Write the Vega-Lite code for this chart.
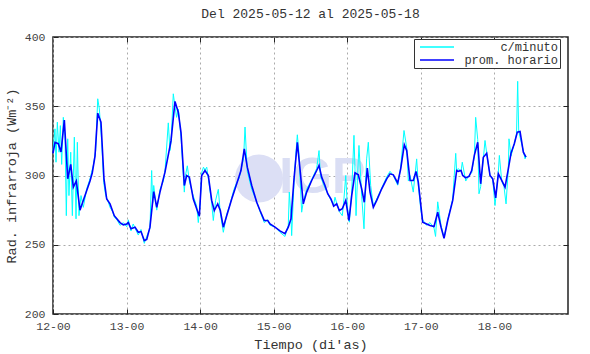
{
"$schema": "https://vega.github.io/schema/vega-lite/v6.json",
"width": 515, "height": 277,
"autosize": {"type": "none"},
"padding": {"left": 53, "top": 37, "right": 22, "bottom": 40},
"background": "white",
"config": {
 "font": "Liberation Mono",
 "view": {"stroke": "#222", "strokeWidth": 1.5},
 "legend": {"strokeColor": "#333", "fillColor": "white", "padding": 2, "symbolType": "M-3.4,0H3.4", "symbolSize": 100, "symbolStrokeWidth": 1.5, "symbolOffset": 15, "labelFont": "Liberation Mono", "labelFontSize": 12, "labelColor": "#333", "labelAlign": "right", "labelOffset": 115, "rowPadding": 1, "cornerRadius": 0}
},
"title": {"text": "Del 2025-05-12 al 2025-05-18", "fontSize": 13, "fontWeight": "normal", "color": "#333", "offset": 10, "font": "Liberation Mono"},
"datasets": {
 "marca": [{"t": 14.80, "v": 297.8, "txt": ""}],
 "marca2": [{"t": 15.66, "v": 298.0, "txt": "IGP"}],
 "horario": [
{"s":"prom. horario","t":12.0,"v":316},{"s":"prom. horario","t":12.027,"v":324},{"s":"prom. horario","t":12.072,"v":323},{"s":"prom. horario","t":12.109,"v":317},{"s":"prom. horario","t":12.154,"v":340},{"s":"prom. horario","t":12.2,"v":297.6},{"s":"prom. horario","t":12.241,"v":308},{"s":"prom. horario","t":12.276,"v":291.6},{"s":"prom. horario","t":12.317,"v":296},{"s":"prom. horario","t":12.367,"v":275},{"s":"prom. horario","t":12.435,"v":285.5},{"s":"prom. horario","t":12.503,"v":296},{"s":"prom. horario","t":12.534,"v":302},{"s":"prom. horario","t":12.571,"v":314},{"s":"prom. horario","t":12.608,"v":345},{"s":"prom. horario","t":12.652,"v":338.5},{"s":"prom. horario","t":12.693,"v":297.6},{"s":"prom. horario","t":12.73,"v":283},{"s":"prom. horario","t":12.775,"v":279.5},{"s":"prom. horario","t":12.833,"v":271},{"s":"prom. horario","t":12.911,"v":266},{"s":"prom. horario","t":12.956,"v":264.4},{"s":"prom. horario","t":13.002,"v":265},{"s":"prom. horario","t":13.024,"v":266},{"s":"prom. horario","t":13.06,"v":261.5},{"s":"prom. horario","t":13.115,"v":262.7},{"s":"prom. horario","t":13.159,"v":259},{"s":"prom. horario","t":13.196,"v":259.5},{"s":"prom. horario","t":13.241,"v":253},{"s":"prom. horario","t":13.274,"v":253.8},{"s":"prom. horario","t":13.318,"v":262.7},{"s":"prom. horario","t":13.369,"v":288.4},{"s":"prom. horario","t":13.41,"v":277},{"s":"prom. horario","t":13.454,"v":288},{"s":"prom. horario","t":13.522,"v":302.4},{"s":"prom. horario","t":13.604,"v":325},{"s":"prom. horario","t":13.658,"v":353.5},{"s":"prom. horario","t":13.703,"v":345.7},{"s":"prom. horario","t":13.74,"v":331},{"s":"prom. horario","t":13.785,"v":292.8},{"s":"prom. horario","t":13.817,"v":300},{"s":"prom. horario","t":13.853,"v":298.8},{"s":"prom. horario","t":13.907,"v":283},{"s":"prom. horario","t":13.953,"v":276},{"s":"prom. horario","t":13.989,"v":270.6},{"s":"prom. horario","t":14.021,"v":300},{"s":"prom. horario","t":14.066,"v":303.6},{"s":"prom. horario","t":14.111,"v":300},{"s":"prom. horario","t":14.157,"v":282},{"s":"prom. horario","t":14.192,"v":274.7},{"s":"prom. horario","t":14.239,"v":279.5},{"s":"prom. horario","t":14.274,"v":274.7},{"s":"prom. horario","t":14.315,"v":262.7},{"s":"prom. horario","t":14.361,"v":271},{"s":"prom. horario","t":14.429,"v":283},{"s":"prom. horario","t":14.497,"v":294},{"s":"prom. horario","t":14.555,"v":303.6},{"s":"prom. horario","t":14.6,"v":319.3},{"s":"prom. horario","t":14.641,"v":306},{"s":"prom. horario","t":14.701,"v":292.8},{"s":"prom. horario","t":14.769,"v":280.7},{"s":"prom. horario","t":14.814,"v":274.7},{"s":"prom. horario","t":14.872,"v":267.5},{"s":"prom. horario","t":14.918,"v":267.5},{"s":"prom. horario","t":14.95,"v":265},{"s":"prom. horario","t":15.017,"v":262.7},{"s":"prom. horario","t":15.085,"v":260},{"s":"prom. horario","t":15.153,"v":258},{"s":"prom. horario","t":15.198,"v":262.7},{"s":"prom. horario","t":15.235,"v":268.7},{"s":"prom. horario","t":15.276,"v":297.6},{"s":"prom. horario","t":15.321,"v":324},{"s":"prom. horario","t":15.357,"v":304.8},{"s":"prom. horario","t":15.402,"v":279.5},{"s":"prom. horario","t":15.448,"v":288},{"s":"prom. horario","t":15.516,"v":296.4},{"s":"prom. horario","t":15.584,"v":303.6},{"s":"prom. horario","t":15.616,"v":307.2},{"s":"prom. horario","t":15.652,"v":298.8},{"s":"prom. horario","t":15.697,"v":292.8},{"s":"prom. horario","t":15.734,"v":286.8},{"s":"prom. horario","t":15.779,"v":283},{"s":"prom. horario","t":15.815,"v":277.8},{"s":"prom. horario","t":15.856,"v":279.5},{"s":"prom. horario","t":15.892,"v":274.7},{"s":"prom. horario","t":15.932,"v":276},{"s":"prom. horario","t":15.979,"v":282},{"s":"prom. horario","t":16.023,"v":267.5},{"s":"prom. horario","t":16.06,"v":285.5},{"s":"prom. horario","t":16.105,"v":302},{"s":"prom. horario","t":16.15,"v":300.5},{"s":"prom. horario","t":16.196,"v":290.4},{"s":"prom. horario","t":16.231,"v":280.7},{"s":"prom. horario","t":16.272,"v":305.3},{"s":"prom. horario","t":16.309,"v":288},{"s":"prom. horario","t":16.354,"v":277},{"s":"prom. horario","t":16.4,"v":282},{"s":"prom. horario","t":16.468,"v":290.4},{"s":"prom. horario","t":16.536,"v":297.6},{"s":"prom. horario","t":16.581,"v":301.2},{"s":"prom. horario","t":16.626,"v":300.5},{"s":"prom. horario","t":16.685,"v":294.7},{"s":"prom. horario","t":16.726,"v":304.8},{"s":"prom. horario","t":16.775,"v":322.2},{"s":"prom. horario","t":16.808,"v":318},{"s":"prom. horario","t":16.853,"v":296.4},{"s":"prom. horario","t":16.897,"v":296.4},{"s":"prom. horario","t":16.934,"v":302.9},{"s":"prom. horario","t":16.965,"v":295.2},{"s":"prom. horario","t":17.025,"v":266.3},{"s":"prom. horario","t":17.079,"v":265},{"s":"prom. horario","t":17.124,"v":263.9},{"s":"prom. horario","t":17.179,"v":263.2},{"s":"prom. horario","t":17.229,"v":273.5},{"s":"prom. horario","t":17.274,"v":262.7},{"s":"prom. horario","t":17.315,"v":254.7},{"s":"prom. horario","t":17.365,"v":267.5},{"s":"prom. horario","t":17.433,"v":282},{"s":"prom. horario","t":17.487,"v":303.6},{"s":"prom. horario","t":17.509,"v":303},{"s":"prom. horario","t":17.546,"v":303.6},{"s":"prom. horario","t":17.569,"v":300},{"s":"prom. horario","t":17.61,"v":298.3},{"s":"prom. horario","t":17.654,"v":299.3},{"s":"prom. horario","t":17.691,"v":303.6},{"s":"prom. horario","t":17.727,"v":314.5},{"s":"prom. horario","t":17.773,"v":324},{"s":"prom. horario","t":17.813,"v":294},{"s":"prom. horario","t":17.849,"v":313.2},{"s":"prom. horario","t":17.895,"v":316},{"s":"prom. horario","t":17.94,"v":300},{"s":"prom. horario","t":17.977,"v":297.6},{"s":"prom. horario","t":18.017,"v":283.9},{"s":"prom. horario","t":18.053,"v":301.2},{"s":"prom. horario","t":18.099,"v":296.4},{"s":"prom. horario","t":18.144,"v":291.6},{"s":"prom. horario","t":18.189,"v":304.8},{"s":"prom. horario","t":18.225,"v":316},{"s":"prom. horario","t":18.27,"v":322.9},{"s":"prom. horario","t":18.311,"v":331.3},{"s":"prom. horario","t":18.348,"v":331.8},{"s":"prom. horario","t":18.393,"v":316.8},{"s":"prom. horario","t":18.429,"v":313.2}
 ],
 "minuto": [
{"s":"c/minuto","t":12.0,"v":318},{"s":"c/minuto","t":12.027,"v":333.7},{"s":"c/minuto","t":12.041,"v":309.6},{"s":"c/minuto","t":12.059,"v":338.5},{"s":"c/minuto","t":12.082,"v":316.8},{"s":"c/minuto","t":12.1,"v":336},{"s":"c/minuto","t":12.118,"v":308},{"s":"c/minuto","t":12.14,"v":342},{"s":"c/minuto","t":12.163,"v":329},{"s":"c/minuto","t":12.181,"v":271},{"s":"c/minuto","t":12.2,"v":326.5},{"s":"c/minuto","t":12.217,"v":285.5},{"s":"c/minuto","t":12.241,"v":316.8},{"s":"c/minuto","t":12.263,"v":271},{"s":"c/minuto","t":12.29,"v":327.7},{"s":"c/minuto","t":12.313,"v":268.7},{"s":"c/minuto","t":12.331,"v":324},{"s":"c/minuto","t":12.353,"v":271},{"s":"c/minuto","t":12.381,"v":285.5},{"s":"c/minuto","t":12.412,"v":277},{"s":"c/minuto","t":12.458,"v":290.4},{"s":"c/minuto","t":12.503,"v":297.6},{"s":"c/minuto","t":12.548,"v":307.2},{"s":"c/minuto","t":12.58,"v":318},{"s":"c/minuto","t":12.608,"v":355.4},{"s":"c/minuto","t":12.63,"v":348},{"s":"c/minuto","t":12.662,"v":324},{"s":"c/minuto","t":12.689,"v":295},{"s":"c/minuto","t":12.716,"v":285.5},{"s":"c/minuto","t":12.75,"v":281},{"s":"c/minuto","t":12.775,"v":277},{"s":"c/minuto","t":12.81,"v":274},{"s":"c/minuto","t":12.833,"v":270},{"s":"c/minuto","t":12.87,"v":268},{"s":"c/minuto","t":12.911,"v":264},{"s":"c/minuto","t":12.956,"v":266},{"s":"c/minuto","t":13.002,"v":263},{"s":"c/minuto","t":13.024,"v":268},{"s":"c/minuto","t":13.06,"v":260},{"s":"c/minuto","t":13.09,"v":265},{"s":"c/minuto","t":13.115,"v":262},{"s":"c/minuto","t":13.159,"v":257},{"s":"c/minuto","t":13.196,"v":261},{"s":"c/minuto","t":13.241,"v":251},{"s":"c/minuto","t":13.274,"v":256},{"s":"c/minuto","t":13.318,"v":262},{"s":"c/minuto","t":13.341,"v":303.6},{"s":"c/minuto","t":13.355,"v":280},{"s":"c/minuto","t":13.369,"v":292.8},{"s":"c/minuto","t":13.41,"v":275},{"s":"c/minuto","t":13.454,"v":290},{"s":"c/minuto","t":13.5,"v":296},{"s":"c/minuto","t":13.522,"v":303},{"s":"c/minuto","t":13.567,"v":338},{"s":"c/minuto","t":13.59,"v":318},{"s":"c/minuto","t":13.604,"v":324},{"s":"c/minuto","t":13.635,"v":359},{"s":"c/minuto","t":13.658,"v":350},{"s":"c/minuto","t":13.68,"v":342},{"s":"c/minuto","t":13.703,"v":348},{"s":"c/minuto","t":13.74,"v":328},{"s":"c/minuto","t":13.785,"v":288},{"s":"c/minuto","t":13.8,"v":300},{"s":"c/minuto","t":13.826,"v":307},{"s":"c/minuto","t":13.853,"v":296},{"s":"c/minuto","t":13.907,"v":285},{"s":"c/minuto","t":13.953,"v":278},{"s":"c/minuto","t":13.975,"v":266},{"s":"c/minuto","t":14.0,"v":280},{"s":"c/minuto","t":14.021,"v":302},{"s":"c/minuto","t":14.045,"v":306},{"s":"c/minuto","t":14.066,"v":304},{"s":"c/minuto","t":14.09,"v":306},{"s":"c/minuto","t":14.111,"v":298},{"s":"c/minuto","t":14.157,"v":280},{"s":"c/minuto","t":14.179,"v":267.5},{"s":"c/minuto","t":14.21,"v":282},{"s":"c/minuto","t":14.247,"v":290},{"s":"c/minuto","t":14.274,"v":273},{"s":"c/minuto","t":14.315,"v":259},{"s":"c/minuto","t":14.361,"v":272},{"s":"c/minuto","t":14.4,"v":278},{"s":"c/minuto","t":14.429,"v":284},{"s":"c/minuto","t":14.46,"v":290},{"s":"c/minuto","t":14.497,"v":295},{"s":"c/minuto","t":14.53,"v":298},{"s":"c/minuto","t":14.555,"v":304},{"s":"c/minuto","t":14.59,"v":312},{"s":"c/minuto","t":14.61,"v":335},{"s":"c/minuto","t":14.641,"v":303},{"s":"c/minuto","t":14.701,"v":290},{"s":"c/minuto","t":14.769,"v":281},{"s":"c/minuto","t":14.814,"v":274},{"s":"c/minuto","t":14.872,"v":266},{"s":"c/minuto","t":14.918,"v":268},{"s":"c/minuto","t":14.95,"v":264},{"s":"c/minuto","t":15.017,"v":263},{"s":"c/minuto","t":15.085,"v":259},{"s":"c/minuto","t":15.153,"v":256},{"s":"c/minuto","t":15.198,"v":264},{"s":"c/minuto","t":15.212,"v":288},{"s":"c/minuto","t":15.235,"v":270},{"s":"c/minuto","t":15.244,"v":256.6},{"s":"c/minuto","t":15.276,"v":295},{"s":"c/minuto","t":15.3,"v":315},{"s":"c/minuto","t":15.321,"v":329.4},{"s":"c/minuto","t":15.34,"v":318},{"s":"c/minuto","t":15.357,"v":300},{"s":"c/minuto","t":15.38,"v":273.5},{"s":"c/minuto","t":15.402,"v":281},{"s":"c/minuto","t":15.448,"v":290},{"s":"c/minuto","t":15.516,"v":297},{"s":"c/minuto","t":15.584,"v":305},{"s":"c/minuto","t":15.616,"v":318},{"s":"c/minuto","t":15.635,"v":300},{"s":"c/minuto","t":15.652,"v":297},{"s":"c/minuto","t":15.697,"v":291},{"s":"c/minuto","t":15.734,"v":287},{"s":"c/minuto","t":15.779,"v":282},{"s":"c/minuto","t":15.815,"v":279},{"s":"c/minuto","t":15.833,"v":284.3},{"s":"c/minuto","t":15.856,"v":280},{"s":"c/minuto","t":15.892,"v":274},{"s":"c/minuto","t":15.932,"v":271},{"s":"c/minuto","t":15.95,"v":280},{"s":"c/minuto","t":15.979,"v":300},{"s":"c/minuto","t":16.0,"v":278},{"s":"c/minuto","t":16.028,"v":266.3},{"s":"c/minuto","t":16.06,"v":288},{"s":"c/minuto","t":16.091,"v":329},{"s":"c/minuto","t":16.105,"v":304},{"s":"c/minuto","t":16.119,"v":271},{"s":"c/minuto","t":16.14,"v":300},{"s":"c/minuto","t":16.159,"v":321.7},{"s":"c/minuto","t":16.196,"v":285},{"s":"c/minuto","t":16.227,"v":261.5},{"s":"c/minuto","t":16.245,"v":290},{"s":"c/minuto","t":16.263,"v":312},{"s":"c/minuto","t":16.286,"v":324},{"s":"c/minuto","t":16.318,"v":292.8},{"s":"c/minuto","t":16.354,"v":278},{"s":"c/minuto","t":16.4,"v":283},{"s":"c/minuto","t":16.468,"v":291},{"s":"c/minuto","t":16.536,"v":299},{"s":"c/minuto","t":16.581,"v":303},{"s":"c/minuto","t":16.626,"v":300},{"s":"c/minuto","t":16.685,"v":293},{"s":"c/minuto","t":16.726,"v":306},{"s":"c/minuto","t":16.771,"v":332.5},{"s":"c/minuto","t":16.808,"v":320},{"s":"c/minuto","t":16.83,"v":296},{"s":"c/minuto","t":16.853,"v":300},{"s":"c/minuto","t":16.897,"v":288},{"s":"c/minuto","t":16.943,"v":312},{"s":"c/minuto","t":16.965,"v":293},{"s":"c/minuto","t":17.0,"v":275},{"s":"c/minuto","t":17.025,"v":268},{"s":"c/minuto","t":17.079,"v":264},{"s":"c/minuto","t":17.124,"v":266},{"s":"c/minuto","t":17.179,"v":262},{"s":"c/minuto","t":17.2,"v":256},{"s":"c/minuto","t":17.229,"v":281},{"s":"c/minuto","t":17.274,"v":264},{"s":"c/minuto","t":17.315,"v":255},{"s":"c/minuto","t":17.365,"v":268},{"s":"c/minuto","t":17.433,"v":283},{"s":"c/minuto","t":17.474,"v":316},{"s":"c/minuto","t":17.487,"v":303},{"s":"c/minuto","t":17.509,"v":305},{"s":"c/minuto","t":17.546,"v":303},{"s":"c/minuto","t":17.563,"v":309.6},{"s":"c/minuto","t":17.61,"v":296},{"s":"c/minuto","t":17.654,"v":300},{"s":"c/minuto","t":17.691,"v":302},{"s":"c/minuto","t":17.727,"v":314},{"s":"c/minuto","t":17.745,"v":342},{"s":"c/minuto","t":17.773,"v":326},{"s":"c/minuto","t":17.79,"v":286.8},{"s":"c/minuto","t":17.813,"v":292},{"s":"c/minuto","t":17.849,"v":312},{"s":"c/minuto","t":17.872,"v":325.3},{"s":"c/minuto","t":17.895,"v":316},{"s":"c/minuto","t":17.94,"v":300},{"s":"c/minuto","t":17.977,"v":297},{"s":"c/minuto","t":18.008,"v":278.3},{"s":"c/minuto","t":18.03,"v":290},{"s":"c/minuto","t":18.053,"v":302},{"s":"c/minuto","t":18.067,"v":314.5},{"s":"c/minuto","t":18.099,"v":296},{"s":"c/minuto","t":18.13,"v":292},{"s":"c/minuto","t":18.158,"v":279.5},{"s":"c/minuto","t":18.189,"v":305},{"s":"c/minuto","t":18.198,"v":326.5},{"s":"c/minuto","t":18.225,"v":314},{"s":"c/minuto","t":18.27,"v":323},{"s":"c/minuto","t":18.3,"v":330},{"s":"c/minuto","t":18.316,"v":368},{"s":"c/minuto","t":18.33,"v":332},{"s":"c/minuto","t":18.348,"v":327.7},{"s":"c/minuto","t":18.393,"v":318},{"s":"c/minuto","t":18.416,"v":312},{"s":"c/minuto","t":18.429,"v":314}
 ]
},
"layer": [
 {
  "data": {"name": "marca"},
  "mark": {"type": "point", "filled": true, "shape": "circle", "color": "#dcdff5", "opacity": 1},
  "encoding": {
   "x": {"field": "t", "type": "quantitative", "scale": {"domain": [12, 19], "nice": false, "zero": false}, "axis": null},
   "y": {"field": "v", "type": "quantitative", "scale": {"domain": [200, 400], "nice": false, "zero": false}, "axis": null},
   "size": {"value": 2300}
  }
 },
 {
  "data": {"name": "marca2"},
  "mark": {"type": "text", "font": "Liberation Sans", "fontWeight": "bold", "fontSize": 50, "color": "#dadef4", "baseline": "middle", "align": "center"},
  "encoding": {
   "x": {"field": "t", "type": "quantitative", "scale": {"domain": [12, 19], "nice": false, "zero": false}, "axis": null},
   "y": {"field": "v", "type": "quantitative", "scale": {"domain": [200, 400], "nice": false, "zero": false}, "axis": null},
   "text": {"field": "txt"}
  }
 },
 {
  "data": {"name": "minuto"},
  "mark": {"type": "line", "strokeWidth": 1, "interpolate": "linear"},
  "encoding": {
   "x": {"field": "t", "type": "quantitative", "scale": {"domain": [12, 19], "nice": false, "zero": false},
     "axis": {"orient": "bottom", "values": [12, 13, 14, 15, 16, 17, 18], "labelExpr": "datum.value + '-00'", "title": "Tiempo (di'as)", "titleFont": "Liberation Mono", "titleFontSize": 13.5, "titleFontWeight": "normal", "titleColor": "#333", "labelFont": "Liberation Mono", "labelFontSize": 11.5, "labelColor": "#444", "tickSize": -5, "tickColor": "#222", "labelPadding": 11, "titlePadding": 6, "grid": true, "gridDash": [2, 3], "gridColor": "#aaaaaa", "domain": false, "labelFlush": false, "labelOverlap": false}},
   "y": {"field": "v", "type": "quantitative", "scale": {"domain": [200, 400], "nice": false, "zero": false},
     "axis": {"orient": "left", "values": [200, 250, 300, 350, 400], "title": "Rad. infrarroja (Wm⁻²)", "titleFont": "Liberation Mono", "titleFontSize": 13.5, "titleFontWeight": "normal", "titleColor": "#333", "labelFont": "Liberation Mono", "labelFontSize": 11.5, "labelColor": "#444", "tickSize": -5, "tickColor": "#222", "labelPadding": 13, "titlePadding": 6, "grid": true, "gridDash": [2, 3], "gridColor": "#aaaaaa", "domain": false, "labelFlush": false, "labelOverlap": false}},
   "color": {"field": "s", "type": "nominal", "scale": {"domain": ["c/minuto", "prom. horario"], "range": ["#00ffff", "#0000ff"]}, "legend": {"title": null, "orient": "none", "legendX": 361, "legendY": 2}}
  }
 },
 {
  "data": {"name": "horario"},
  "mark": {"type": "line", "strokeWidth": 1.6, "interpolate": "linear"},
  "encoding": {
   "x": {"field": "t", "type": "quantitative", "scale": {"domain": [12, 19], "nice": false, "zero": false},
     "axis": {"orient": "top", "values": [13, 14, 15, 16, 17, 18], "labels": false, "title": null, "tickSize": -5, "tickColor": "#222", "grid": false, "domain": false}},
   "y": {"field": "v", "type": "quantitative", "scale": {"domain": [200, 400], "nice": false, "zero": false},
     "axis": {"orient": "right", "values": [250, 300, 350], "labels": false, "title": null, "tickSize": -5, "tickColor": "#222", "grid": false, "domain": false}},
   "color": {"field": "s", "type": "nominal", "scale": {"domain": ["c/minuto", "prom. horario"], "range": ["#00ffff", "#0000ff"]}, "legend": {"title": null, "orient": "none", "legendX": 361, "legendY": 2}}
  }
 }
],
"resolve": {"axis": {"x": "independent", "y": "independent"}}
}
